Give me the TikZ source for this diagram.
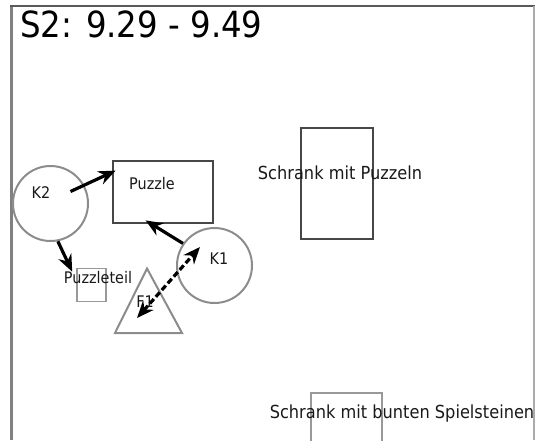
\documentclass[tikz,border=0pt]{standalone}
\usepackage{fontspec}
\setmainfont{DejaVu Sans}[FakeStretch=0.9]
\usetikzlibrary{arrows.meta}

\tikzset{
	person/.style={circle, draw=black!45, line width=2pt, minimum size=75pt, inner sep=0pt},
	thing/.style={rectangle, draw=black!72, line width=2.8pt, inner sep=0pt},
	smallthing/.style={rectangle, draw=black!40, line width=1.6pt, inner sep=0pt},
	lbl/.style={text=black!90, font=\fontsize{16}{18}\selectfont, inner sep=0pt},
	biglbl/.style={text=black!90, font=\fontsize{18}{20}\selectfont, inner sep=0pt},
	arr/.style={-{Stealth[length=17pt,width=14pt]}, line width=3.2pt},
}

\begin{document}
\begin{tikzpicture}[x=1pt, y=-1pt]
			\useasboundingbox (0,0) rectangle (538,440);
			\clip (0,0) rectangle (538,440);
			% frame
			\draw[black!50, line width=2.5pt] (11.5,440) -- (11.5,6);
			\draw[black!65, line width=2.2pt] (10.3,6) -- (535,6);
			\draw[black!33, line width=2pt] (534,6) -- (534,440);
			\node[text=black, font=\fontsize{36}{40}\selectfont, inner sep=0pt, anchor=base west] (title) at (20,37) {S2: 9.29 - 9.49};
			% shapes
			\node[person] (k2) at (50.5,203.5) {};
			\node[person] (k1) at (214.5,265.5) {};
			\node[thing, minimum width=100pt, minimum height=62pt] (puzzle) at (163,192) {};
			\node[smallthing, minimum width=29pt, minimum height=33pt] (pteil) at (91.5,285) {};
			\draw[black!45, line width=2pt, line join=miter] (115,333) -- (147,268.5) -- (182,333) -- cycle;
			\coordinate (f1) at (148,311);
			\node[thing, minimum width=72pt, minimum height=111pt] (schrank1) at (337,183.5) {};
			\node[smallthing, minimum width=71pt, minimum height=70pt] (schrank2) at (346.5,428) {};
			% labels
			\node[lbl] (k2txt) at (41,193) {K2};
			\node[lbl] (k1txt) at (219,259) {K1};
			\node[lbl] (puzzletxt) at (152,184) {Puzzle};
			\node[lbl] (pteiltxt) at (98,278) {Puzzleteil};
			\node[lbl] (f1txt) at (145,302) {F1};
			\node[biglbl] (schrank1txt) at (340,173) {Schrank mit Puzzeln};
			\node[biglbl] (schrank2txt) at (402,414) {Schrank mit bunten Spielsteinen};
			% relations
			\draw[arr] ([shift={(20,-12)}]k2.center) to ([shift={(4,11)}]puzzle.north west);
			\draw[arr] (k2.-79) to ([shift={(-4,4)}]pteil.north west);
			\draw[arr] (k1.145) to ([shift={(34,-4)}]puzzle.south west);
			\draw[arr, {Stealth[length=17pt,width=14pt]}-{Stealth[length=17pt,width=14pt]}, dash pattern=on 6pt off 3pt] ([shift={(-11,7)}]f1) to ([shift={(-14.5,-18.5)}]k1.center);
		\end{tikzpicture}
\end{document}
